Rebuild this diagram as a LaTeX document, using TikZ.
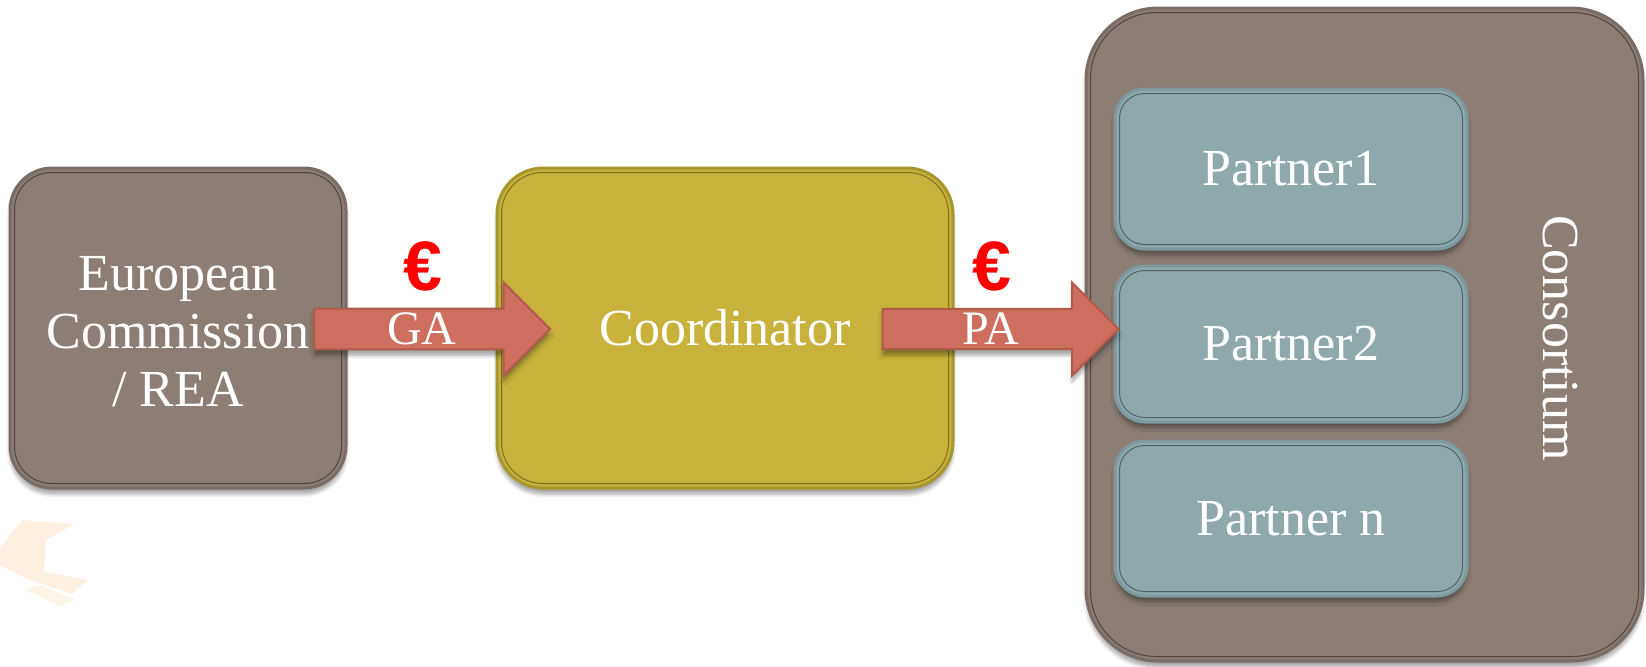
\documentclass[tikz,border=0pt]{standalone}
\usepackage{fontspec}
\setmainfont{Liberation Serif}
\newfontfamily\eurofont{Liberation Sans}
\usetikzlibrary{shapes.arrows,shadows.blur}
\definecolor{brownfill}{HTML}{8C7E75}
\definecolor{brownedge}{HTML}{7A6D66}
\definecolor{brownin}{HTML}{4F4540}
\definecolor{olivefill}{HTML}{C8B23C}
\definecolor{oliveedge}{HTML}{A8962E}
\definecolor{olivein}{HTML}{7F7020}
\definecolor{tealfill}{HTML}{8FA8AC}
\definecolor{tealedge}{HTML}{7C9A9F}
\definecolor{tealin}{HTML}{4E6468}
\definecolor{arrfill}{HTML}{CD6E5E}
\definecolor{arredge}{HTML}{B05A4A}
\definecolor{peach}{HTML}{FDF0E0}
\begin{document}
\begin{tikzpicture}[x=0.5pt,y=-0.5pt,
  boxbase/.style={line width=1.5pt, text=white, align=center, inner sep=0pt,
    font=\fontsize{26}{29}\selectfont,
    blur shadow={shadow xshift=0pt, shadow yshift=-3pt, shadow blur steps=6, shadow opacity=35}},
  brownbox/.style={boxbase, fill=brownfill, draw=brownedge},
  olivebox/.style={boxbase, fill=olivefill, draw=oliveedge},
  tealbox/.style={boxbase, fill=tealfill, draw=tealedge},
  inl/.style={line width=0.5pt},
  boxtext/.style={text=white, align=center, inner sep=0pt, font=\fontsize{26}{29}\selectfont},
  blockarrow/.style={single arrow, single arrow head extend=11pt, single arrow tip angle=90,
    minimum width=46.5pt, minimum height=118pt, inner sep=0pt, fill=arrfill, draw=arredge,
    line width=1pt, text=white, font=\fontsize{24}{24}\selectfont,
    blur shadow={shadow xshift=0pt, shadow yshift=-3pt, shadow blur steps=6, shadow opacity=35}},
  euro/.style={text=red, inner sep=0pt, font=\eurofont\bfseries\fontsize{35}{35}\selectfont}
]
\useasboundingbox (0,0) rectangle (1646,666);
% faint background decoration
\fill[peach] (0,548) -- (22,520) -- (74,524) -- (46,540) -- (44,572) -- (88,580) -- (72,594) -- (30,580) -- (0,565) -- cycle;
\fill[peach!70] (25,590) -- (40,585) -- (75,600) -- (60,606) -- cycle;

% consortium
\node[brownbox, rounded corners=36pt, minimum width=278.5pt, minimum height=326.5pt] (cons) at (1364.5,334.5) {};
\draw[inl, draw=brownin, rounded corners=33pt] ([shift={(3pt,-3pt)}]cons.north west) rectangle ([shift={(-3pt,3pt)}]cons.south east);
\node[text=white, rotate=-90, inner sep=0pt, font=\fontsize{26}{26}\selectfont] (constext) at (1560,338) {Consortium};

% partners
\node[tealbox, rounded corners=15pt, minimum width=176pt, minimum height=80pt] (p1) at (1291,169) {Partner1};
\node[tealbox, rounded corners=15pt, minimum width=176pt, minimum height=78pt] (p2) at (1291,344) {Partner2};
\node[tealbox, rounded corners=15pt, minimum width=176pt, minimum height=77.5pt] (pn) at (1291,518.5) {Partner n};
\foreach \n in {p1,p2,pn}{
  \draw[inl, draw=tealin, rounded corners=12.5pt] ([shift={(3pt,-3pt)}]\n.north west) rectangle ([shift={(-3pt,3pt)}]\n.south east);
}

% european commission
\node[brownbox, rounded corners=21pt, minimum width=168pt, minimum height=160pt] (ec) at (178,328) {};
\draw[inl, draw=brownin, rounded corners=18.5pt] ([shift={(3pt,-3pt)}]ec.north west) rectangle ([shift={(-3pt,3pt)}]ec.south east);
\node[boxtext] (ectext) at ([yshift=-1.8pt]ec.center) {European\\Commission\\/ REA};

% coordinator
\node[olivebox, rounded corners=23pt, minimum width=228pt, minimum height=160pt] (coord) at (725,328) {Coordinator};
\draw[inl, draw=olivein, rounded corners=20.5pt] ([shift={(3pt,-3pt)}]coord.north west) rectangle ([shift={(-3pt,3pt)}]coord.south east);

% arrows
\node[blockarrow] (ga) at (422,329) {\raisebox{-2.6pt}{GA}};
\node[blockarrow] (pa) at (990.5,329) {\raisebox{-2.6pt}{PA}};

% euro signs
\node[euro] (eur1) at (423,266) {€};
\node[euro] (eur2) at (992,266) {€};
\end{tikzpicture}
\end{document}
